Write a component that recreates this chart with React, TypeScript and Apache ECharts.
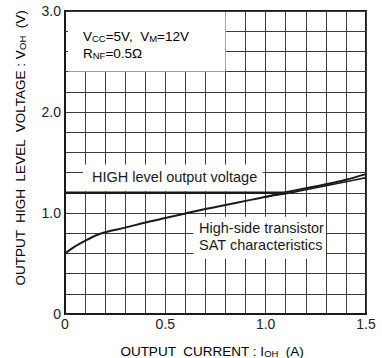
import React, { useEffect, useRef } from "react";
import * as echarts from "echarts";

// Data
const satCurveX = [0, 0.05, 0.1, 0.15, 0.2, 0.3, 0.4, 0.5, 0.6, 0.7, 0.8, 0.9, 1.0, 1.1, 1.2, 1.3, 1.4, 1.5];
const satCurveY = [0.6, 0.67, 0.725, 0.775, 0.81, 0.855, 0.905, 0.95, 0.995, 1.04, 1.08, 1.12, 1.16, 1.205, 1.245, 1.285, 1.33, 1.385];
const satLowerX = [1.0, 1.1, 1.2, 1.3, 1.4, 1.5];
const satLowerY = [1.16, 1.19, 1.23, 1.27, 1.31, 1.35];
const highLevelX = [0, 1.1];
const highLevelY = [1.2, 1.2];

const xTickLabels = ["0", "0.5", "1.0", "1.5"];
const yTickLabels = ["0", "1.0", "2.0", "3.0"];

// annotation boxes (data coords)
const condBox = [[0.015, 2.4], [0.8, 2.99]];
const highBox = [[0.09, 1.215], [0.985, 1.48]];
const satBox = [[0.64, 0.547], [1.3, 0.963]];

const FONT = "'Liberation Sans', Arial, Helvetica, sans-serif";
const INK = "#1a1a1a";

export default function App() {
  const ref = useRef<HTMLDivElement>(null);
  useEffect(() => {
    document.body.style.margin = "0";
    if (!ref.current) return;
    const chart = echarts.init(ref.current, undefined, { renderer: "svg" });
    const zip = (xs: number[], ys: number[]) => xs.map((x, i) => [x, ys[i]]);
    const box = (b: number[][]) => [{ coord: b[0] }, { coord: b[1] }];
    const sub = { fontSize: 9.5, fontFamily: FONT, color: INK, verticalAlign: "bottom" as const, lineHeight: 17 };
    const main = { fontSize: 13.5, fontFamily: FONT, color: INK, verticalAlign: "bottom" as const, lineHeight: 17 };
    chart.setOption({
      animation: false,
      backgroundColor: "#fff",
      grid: { left: 65, right: 16, top: 11, bottom: 44, show: true, borderColor: INK, borderWidth: 2 },
      xAxis: {
        type: "value",
        min: 0,
        max: 1.5,
        interval: 0.1,
        axisLine: { show: true, lineStyle: { color: INK, width: 2 } },
        axisTick: { show: false },
        splitLine: { show: true, lineStyle: { color: "#3a3a3a", width: 1 } },
        axisLabel: {
          margin: 3,
          fontSize: 14,
          fontFamily: FONT,
          color: "#222",
          formatter: (v: number) => {
            const r = Math.round(v * 10);
            return r % 5 === 0 ? xTickLabels[r / 5] ?? "" : "";
          },
        },
      },
      yAxis: {
        type: "value",
        min: 0,
        max: 3,
        interval: 0.2,
        axisLine: { show: true, lineStyle: { color: INK, width: 2 } },
        axisTick: { show: true, inside: true, length: 4, lineStyle: { color: "#3a3a3a" } },
        splitLine: { show: true, lineStyle: { color: "#3a3a3a", width: 1 } },
        axisLabel: {
          margin: 4,
          fontSize: 14,
          fontFamily: FONT,
          color: "#222",
          formatter: (v: number) => {
            const r = Math.round(v * 10);
            return r % 10 === 0 ? yTickLabels[r / 10] ?? "" : "";
          },
        },
      },
      series: [
        {
          type: "line",
          name: "boxes",
          data: [],
          silent: true,
          z: 3,
          markArea: {
            silent: true,
            itemStyle: { color: "#fff", opacity: 1 },
            label: { show: false },
            data: [box(condBox), box(highBox), box(satBox)],
          },
        },
        {
          type: "line",
          name: "HIGH level output voltage",
          data: zip(highLevelX, highLevelY),
          symbol: "none",
          z: 4,
          lineStyle: { color: INK, width: 2.5 },
        },
        {
          type: "line",
          name: "High-side transistor SAT characteristics",
          data: zip(satCurveX, satCurveY),
          symbol: "none",
          smooth: 0.3,
          z: 5,
          lineStyle: { color: INK, width: 2 },
        },
        {
          type: "line",
          name: "SAT lower",
          data: zip(satLowerX, satLowerY),
          symbol: "none",
          smooth: 0.3,
          z: 5,
          lineStyle: { color: INK, width: 1.6 },
        },
      ],
      graphic: [
        {
          type: "text",
          x: 83,
          y: 26,
          z: 10,
          style: {
            text: "{a|V}{s|CC}{a|=5V,  V}{s|M}{a|=12V}\n{a|R}{s|NF}{a|=0.5Ω}",
            rich: { a: main, s: sub },
          },
        },
        {
          type: "text",
          x: 92,
          y: 177,
          z: 10,
          style: { text: "HIGH level output voltage", font: `14.5px ${FONT}`, fill: INK, verticalAlign: "middle" },
        },
        {
          type: "text",
          x: 199,
          y: 219,
          z: 10,
          style: {
            text: "High-side transistor\nSAT characteristics",
            font: `14.5px ${FONT}`,
            fill: INK,
            lineHeight: 17,
          },
        },
        {
          type: "text",
          x: 212,
          y: 350,
          z: 10,
          style: {
            text: "{a|OUTPUT  CURRENT : I}{s|OH}{a|  (A)}",
            align: "center",
            verticalAlign: "middle",
            rich: { a: main, s: sub },
          },
        },
        {
          type: "text",
          x: 19,
          y: 148,
          rotation: Math.PI / 2,
          z: 10,
          style: {
            text: "{a|OUTPUT  HIGH  LEVEL  VOLTAGE : V}{s|OH}{a|  (V)}",
            align: "center",
            verticalAlign: "middle",
            rich: { a: main, s: sub },
          },
        },
      ],
    });
    return () => chart.dispose();
  }, []);
  return <div ref={ref} style={{ width: 382, height: 358 }} />;
}
